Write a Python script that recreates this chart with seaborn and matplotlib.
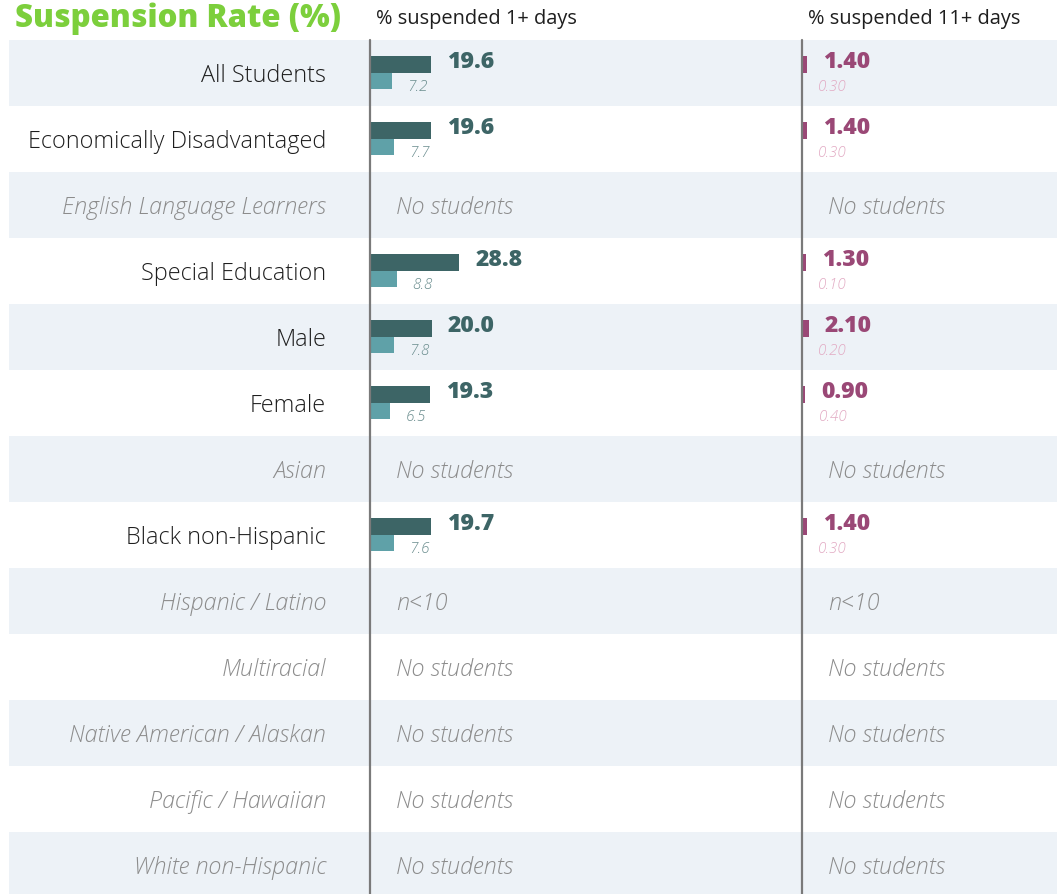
import numpy as np
import pandas as pd
import matplotlib
matplotlib.use("Agg")
import matplotlib.pyplot as plt
import seaborn as sns

sns.set_style("white")
plt.rcParams["font.family"] = ["Open Sans", "DejaVu Sans"]

# --- data ---
groups = ["All Students", "Economically Disadvantaged", "English Language Learners",
          "Special Education", "Male", "Female", "Asian", "Black non-Hispanic",
          "Hispanic / Latino", "Multiracial", "Native American / Alaskan",
          "Pacific / Hawaiian", "White non-Hispanic"]
school_1plus = [19.6, 19.6, np.nan, 28.8, 20.0, 19.3, np.nan, 19.7, np.nan, np.nan, np.nan, np.nan, np.nan]
state_1plus = [7.2, 7.7, np.nan, 8.8, 7.8, 6.5, np.nan, 7.6, np.nan, np.nan, np.nan, np.nan, np.nan]
school_11plus = [1.40, 1.40, np.nan, 1.30, 2.10, 0.90, np.nan, 1.40, np.nan, np.nan, np.nan, np.nan, np.nan]
state_11plus = [0.30, 0.30, np.nan, 0.10, 0.20, 0.40, np.nan, 0.30, np.nan, np.nan, np.nan, np.nan, np.nan]
notes = ["", "", "No students", "", "", "", "No students", "", "n<10",
         "No students", "No students", "No students", "No students"]

W, H = 1057, 894
fig = plt.figure(figsize=(W / 100, H / 100), dpi=100)

row_px = 66
top_px = 40
n_vis = (H - top_px) / row_px
ylim = (-0.5 + n_vis, -0.5)
band = "#edf2f7"
axis_grey = "#7a7a7a"


def add_ax(x0, x1):
    ax = fig.add_axes([x0 / W, 0, (x1 - x0) / W, (H - top_px) / H])
    for i in range(0, len(groups), 2):
        ax.axhspan(i - 0.5, i + 0.5, color=band, lw=0, zorder=0)
    return ax


# --- labels column ---
ax_lab = add_ax(9, 370)
ax_lab.set_xlim(0, 361)
ax_lab.set_ylim(*ylim)
for i, g in enumerate(groups):
    missing = notes[i] != ""
    ax_lab.text(317, i + 0.05, g, ha="right", va="center", fontsize=16.8,
                color="#8c8c8c" if missing else "#1e1e1e",
                style="italic" if missing else "normal", fontweight="light")
ax_lab.axis("off")


def panel(ax, school, state, dark, light, label_light, fmt, xmax):
    df = pd.DataFrame({
        "group": groups * 2,
        "value": list(school) + list(state),
        "series": ["school"] * len(groups) + ["state"] * len(groups),
    })
    sns.barplot(data=df, y="group", x="value", hue="series", order=groups,
                hue_order=["school", "state"], palette=[dark, light],
                orient="h", width=0.5, saturation=1, linewidth=0,
                errorbar=None, legend=False, ax=ax)
    for i in range(0, len(groups), 2):
        ax.axhspan(i - 0.5, i + 0.5, color=band, lw=0, zorder=0)
    ax.set_xlim(0, xmax)
    ax.set_ylim(*ylim)
    for i in range(len(groups)):
        if notes[i]:
            ax.annotate(notes[i], (0, i + 0.05), xytext=(19, 0), textcoords="offset points",
                        ha="left", va="center", fontsize=16.8, style="italic",
                        color="#8c8c8c", fontweight="light")
            continue
        ax.annotate(fmt.format(school[i]), (school[i], i - 0.16), xytext=(11.5, 0),
                    textcoords="offset points", ha="left", va="center",
                    fontsize=16.6, fontweight="heavy", color=dark)
        ax.annotate(fmt.format(state[i]), (state[i], i + 0.21), xytext=(11, 0),
                    textcoords="offset points", ha="left", va="center",
                    fontsize=11, style="italic", color=label_light, fontweight="light")
    ax.axvline(0, color=axis_grey, lw=1.6, clip_on=False, ymax=1.0, zorder=5)
    ax.set_xlabel("")
    ax.set_ylabel("")
    ax.set_xticks([])
    ax.set_yticks([])
    for s in ax.spines.values():
        s.set_visible(False)
    ax.patch.set_alpha(0)


ax1 = add_ax(370, 802)
panel(ax1, school_1plus, state_1plus, "#3d6566", "#5fa1a8", "#6a8d8e", "{:.1f}", 432 / 3.1)
ax2 = add_ax(802, W)
panel(ax2, school_11plus, state_11plus, "#9a4876", "#c9a3b4", "#e2aac3", "{:.2f}", 255 / 3.3)

# --- headers ---
fig.text(15 / W, 1 - 19 / H, "Suspension Rate (%)", ha="left", va="center",
         fontsize=22.5, fontweight="heavy", color="#7ccf3c")
fig.text(376 / W, 1 - 19 / H, "% suspended 1+ days", ha="left", va="center",
         fontsize=14.4, color="#1e1e1e")
fig.text(808 / W, 1 - 19 / H, "% suspended 11+ days", ha="left", va="center",
         fontsize=14.4, color="#1e1e1e")

fig.savefig("out.png", dpi=100)
